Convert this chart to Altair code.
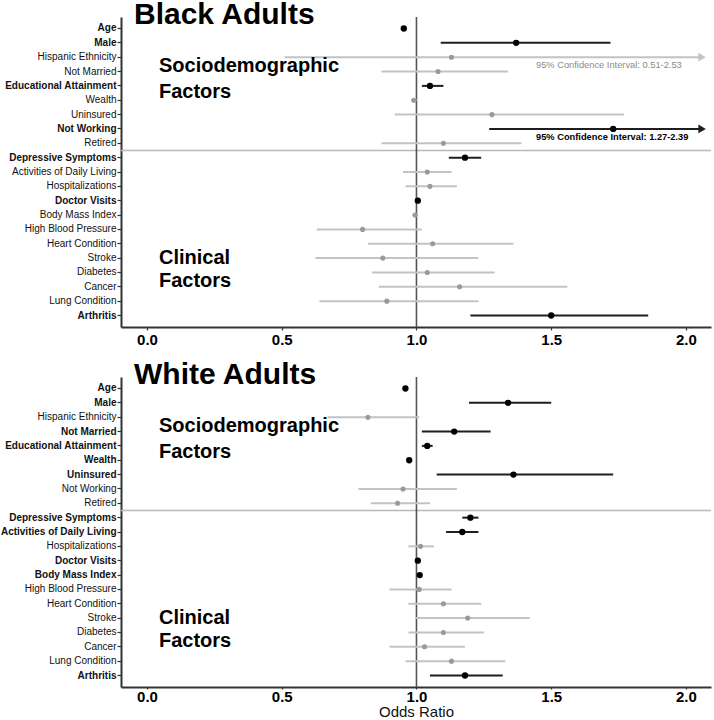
import altair as alt
import pandas as pd

# Predictors, listed top to bottom
factors = [
    "Age", "Male", "Hispanic Ethnicity", "Not Married", "Educational Attainment",
    "Wealth", "Uninsured", "Not Working", "Retired",
    "Depressive Symptoms", "Activities of Daily Living", "Hospitalizations",
    "Doctor Visits", "Body Mass Index", "High Blood Pressure", "Heart Condition",
    "Stroke", "Diabetes", "Cancer", "Lung Condition", "Arthritis",
]

# Black adults: odds ratios with 95% confidence limits
black_or = [0.953, 1.37, 1.13, 1.08, 1.05, 0.99, 1.28, 1.73, 1.10,
            1.18, 1.04, 1.05, 1.005, 0.995, 0.80, 1.06, 0.875, 1.04, 1.16, 0.89, 1.50]
black_lo = [0.945, 1.09, 0.51, 0.87, 1.02, 0.98, 0.92, 1.27, 0.87,
            1.12, 0.95, 0.96, 1.00, 0.985, 0.63, 0.82, 0.625, 0.835, 0.86, 0.64, 1.20]
black_hi = [0.962, 1.72, 2.53, 1.34, 1.10, 1.00, 1.77, 2.39, 1.39,
            1.24, 1.13, 1.15, 1.01, 1.005, 1.02, 1.36, 1.23, 1.29, 1.56, 1.23, 1.86]
black_sig = [True, True, False, False, True, False, False, True, False,
             True, False, False, True, False, False, False, False, False, False, False, True]

# White adults: odds ratios with 95% confidence limits
white_or = [0.959, 1.34, 0.82, 1.14, 1.04, 0.973, 1.36, 0.95, 0.93,
            1.20, 1.17, 1.015, 1.005, 1.012, 1.01, 1.10, 1.19, 1.10, 1.03, 1.13, 1.18]
white_lo = [0.95, 1.195, 0.67, 1.02, 1.02, 0.965, 1.075, 0.785, 0.83,
            1.17, 1.11, 0.97, 1.00, 1.005, 0.90, 0.97, 0.995, 0.97, 0.90, 0.96, 1.05]
white_hi = [0.968, 1.50, 1.01, 1.275, 1.06, 0.98, 1.73, 1.15, 1.05,
            1.23, 1.23, 1.065, 1.01, 1.02, 1.13, 1.24, 1.42, 1.25, 1.18, 1.33, 1.32]
white_sig = [True, True, False, True, True, True, True, False, False,
             True, True, False, True, True, False, False, False, False, False, False, True]

X_MIN, X_MAX = -0.0965, 2.093
ARROW_AT = 2.06  # intervals running past the axis end get an arrow here
FONT = "Liberation Sans"
TICKS = [0, 0.5, 1, 1.5, 2]


def panel(title, orr, lo, hi, sig, x_title):
    df = pd.DataFrame({"factor": factors, "or": orr, "lo": lo, "hi": hi,
                       "sig": ["sig" if s else "ns" for s in sig]})
    df["hi_shown"] = df["hi"].clip(upper=ARROW_AT)
    df["clipped"] = df["hi"] > ARROW_AT
    df["ci_text"] = [f"95% Confidence Interval: {a:.2f}-{b:.2f}" for a, b in zip(df["lo"], df["hi"])]

    bold_names = [f for f, s in zip(factors, sig) if s]
    test = "indexof([" + ",".join("'" + n + "'" for n in bold_names) + "], datum.value) >= 0"

    if x_title:
        xaxis = alt.Axis(values=TICKS, format=".1f", title=x_title, tickSize=2, labelPadding=0,
                         titleFontSize=15, titleFontWeight="normal", titlePadding=0,
                         titleColor="#111111")
    else:
        xaxis = alt.Axis(values=TICKS, format=".1f", title=None, tickSize=3, labelPadding=2)
    xs = alt.Scale(domain=[X_MIN, X_MAX], nice=False, zero=False)

    def X(field):
        return alt.X(f"{field}:Q", scale=xs, axis=xaxis)

    y = alt.Y("factor:N", sort=factors,
              scale=alt.Scale(domain=factors, padding=0.6),
              axis=alt.Axis(title=None, labelLimit=200,
                            labelFontWeight={"condition": {"test": test, "value": "bold"},
                                             "value": "normal"}))

    is_sig = "datum.sig == 'sig'"
    line_col = alt.condition(is_sig, alt.value("#1e1e1e"), alt.value("#c3c3c3"))
    pt_col = alt.condition(is_sig, alt.value("#000000"), alt.value("#9a9a9a"))
    pt_size = alt.condition(is_sig, alt.value(40), alt.value(26))

    base = alt.Chart(df)

    sep = alt.Chart(pd.DataFrame({"factor": ["Retired"]})).mark_rule(
        color="#b8b8b8", strokeWidth=1.5, yOffset=7.3).encode(y=y)
    ref = alt.Chart(pd.DataFrame({"x": [1.0]})).mark_rule(
        color="#555555", strokeWidth=1.6).encode(x=X("x"))

    ci = base.mark_rule(strokeWidth=2).encode(x=X("lo"), x2="hi_shown:Q", y=y, color=line_col)
    pts = base.mark_point(filled=True, opacity=1).encode(x=X("or"), y=y, color=pt_col, size=pt_size)
    arrows = base.transform_filter("datum.clipped").mark_point(
        shape="triangle-right", filled=True, opacity=1, size=75).encode(
        x=X("hi_shown"), y=y, color=line_col)

    txt_ns = base.transform_filter("datum.clipped && datum.sig == 'ns'").mark_text(
        align="left", baseline="middle", dy=8, fontSize=9.3, color="#8a8a8a", font=FONT).encode(
        x=alt.value(415), y=y, text="ci_text:N")
    txt_sig = base.transform_filter("datum.clipped && datum.sig == 'sig'").mark_text(
        align="left", baseline="middle", dy=8, fontSize=9.3, fontWeight="bold",
        color="#000000", font=FONT).encode(x=alt.value(415), y=y, text="ci_text:N")

    socio = alt.Chart(pd.DataFrame({"t": ["Sociodemographic\nFactors"]})).mark_text(
        align="left", baseline="alphabetic", fontSize=20, fontWeight="bold",
        lineBreak="\n", lineHeight=26, color="#000", font=FONT).encode(
        x=alt.value(38), y=alt.value(55), text="t:N")
    clin = alt.Chart(pd.DataFrame({"t": ["Clinical\nFactors"]})).mark_text(
        align="left", baseline="alphabetic", fontSize=20, fontWeight="bold",
        lineBreak="\n", lineHeight=23, color="#000", font=FONT).encode(
        x=alt.value(38), y=alt.value(247), text="t:N")
    head = alt.Chart(pd.DataFrame({"t": [title]})).mark_text(
        align="left", baseline="alphabetic", fontSize=30, fontWeight="bold",
        color="#000", font=FONT).encode(x=alt.value(13), y=alt.value(7), text="t:N")

    return alt.layer(sep, ref, ci, pts, arrows, txt_ns, txt_sig, socio, clin, head).properties(
        width=590, height=310)


top = panel("Black Adults", black_or, black_lo, black_hi, black_sig, None)
bottom = panel("White Adults", white_or, white_lo, white_hi, white_sig, "Odds Ratio")

chart = alt.vconcat(top, bottom, spacing=50, bounds="flush").properties(
    padding={"left": 0, "top": 0, "right": 0, "bottom": 0}
).configure_axis(
    labelFont=FONT, titleFont=FONT, domainColor="#333333", domainWidth=2,
    tickColor="#333333", tickWidth=1.2, grid=False, labelColor="#111111"
).configure_axisY(
    labelFontSize=10, tickSize=4, labelPadding=1
).configure_axisX(
    labelFontSize=15, labelFontWeight="bold", labelColor="#000000"
).configure_view(strokeWidth=0)

chart.save("out.html", embed_options={"renderer": "svg", "actions": False})
